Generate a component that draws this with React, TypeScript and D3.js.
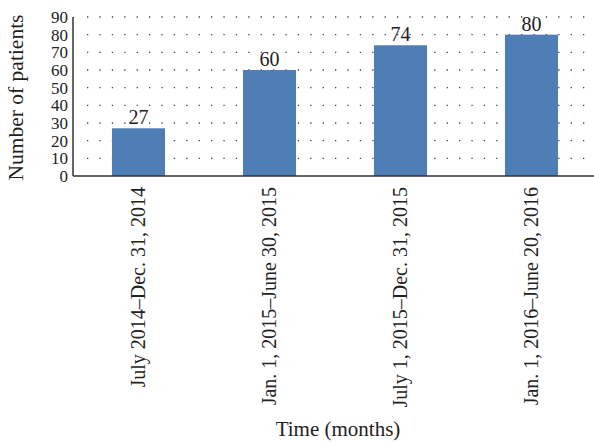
import * as d3 from "d3";

const periods = [
  "July 2014–Dec. 31, 2014",
  "Jan. 1, 2015–June 30, 2015",
  "July 1, 2015–Dec. 31, 2015",
  "Jan. 1, 2016–June 20, 2016",
];
const patients = [27, 60, 74, 80];
const yTicks = [0, 10, 20, 30, 40, 50, 60, 70, 80, 90];

const width = 594;
const height = 442;
const left = 73;
const right = 594;
const top = 17;
const bottom = 176;
const font = "'Liberation Serif', 'DejaVu Serif', serif";

export default function App() {
  const x = d3
    .scaleBand()
    .domain(periods)
    .range([left, 597])
    .paddingInner(0.595)
    .paddingOuter(0.2975);

  const y = d3.scaleLinear().domain([0, 90]).range([bottom, top]);

  return (
    <svg
      width={width}
      height={height}
      style={{ position: "absolute", left: 0, top: 0, background: "#fff" }}
      fontFamily={font}
    >
      {/* dotted grid */}
      {yTicks.slice(1).map((t) => (
        <line
          key={t}
          x1={left + 14}
          x2={right}
          y1={y(t)}
          y2={y(t)}
          stroke="#444"
          strokeWidth={1.3}
          strokeDasharray="1.3 11.1"
        />
      ))}

      {/* bars */}
      {patients.map((v, i) => (
        <g key={periods[i]}>
          <rect
            x={x(periods[i])!}
            y={y(v)}
            width={x.bandwidth()}
            height={bottom - y(v)}
            fill="#4f7db6"
          />
          <text
            x={x(periods[i])! + x.bandwidth() / 2}
            y={y(v) - 4}
            textAnchor="middle"
            fontSize={20}
            fill="#222"
          >
            {v}
          </text>
        </g>
      ))}

      {/* axes */}
      <line x1={left} x2={left} y1={top} y2={bottom} stroke="#333" strokeWidth={1.5} />
      <line x1={left} x2={right} y1={bottom} y2={bottom} stroke="#333" strokeWidth={1.5} />

      {yTicks.map((t) => (
        <text
          key={t}
          x={left - 5}
          y={y(t)}
          dy="0.35em"
          textAnchor="end"
          fontSize={17}
          fill="#222"
        >
          {t}
        </text>
      ))}

      {periods.map((p) => (
        <text
          key={p}
          transform={`translate(${x(p)! + x.bandwidth() / 2 + 6},${bottom + 11}) rotate(-90)`}
          textAnchor="end"
          fontSize={20}
          fill="#222"
        >
          {p}
        </text>
      ))}

      <text
        transform={`translate(23,${(top + bottom) / 2 + 1}) rotate(-90)`}
        textAnchor="middle"
        fontSize={21.5}
        fill="#222"
      >
        Number of patients
      </text>
      <text x={338} y={436} textAnchor="middle" fontSize={21} fill="#222">
        Time (months)
      </text>
    </svg>
  );
}
